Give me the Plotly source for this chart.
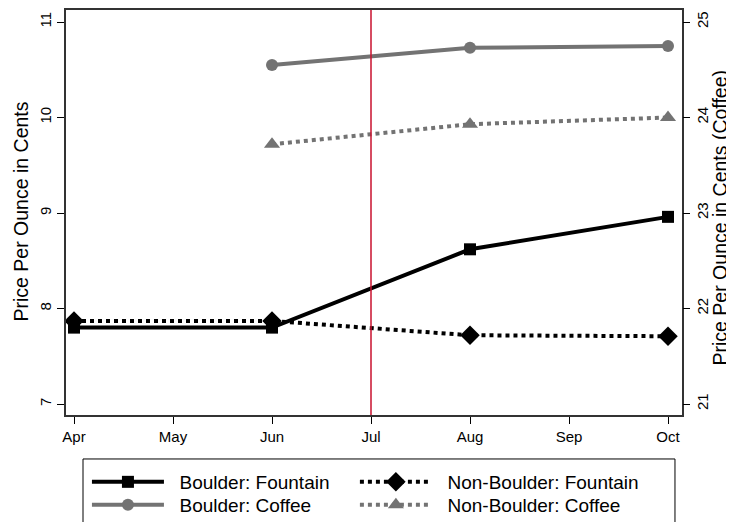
import plotly.graph_objects as go

months = ["Apr", "May", "Jun", "Jul", "Aug", "Sep", "Oct"]
obs_months = ["Apr", "Jun", "Aug", "Oct"]
boulder_fountain = [7.80, 7.80, 8.62, 8.96]
nonboulder_fountain = [7.87, 7.87, 7.72, 7.71]
coffee_months = ["Jun", "Aug", "Oct"]
boulder_coffee = [24.55, 24.73, 24.75]
nonboulder_coffee = [23.72, 23.93, 24.00]
event_month = "Jul"
left_title = "Price Per Ounce in Cents"
right_title = "Price Per Ounce in Cents (Coffee)"

idx = {m: i for i, m in enumerate(months)}
xf = [idx[m] for m in obs_months]
xc = [idx[m] for m in coffee_months]
pad = "\u00a0\u00a0"

fig = go.Figure()
fig.add_trace(go.Scatter(x=xf, y=boulder_fountain, name=pad + "Boulder: Fountain",
    mode="lines+markers", line=dict(color="black", width=4), legend="legend",
    marker=dict(symbol="square", size=12, color="black")))
fig.add_trace(go.Scatter(x=xf, y=nonboulder_fountain, name=pad + "Non-Boulder: Fountain",
    mode="lines+markers", line=dict(color="black", width=4, dash="dot"), legend="legend2",
    marker=dict(symbol="diamond", size=15, color="black")))
fig.add_trace(go.Scatter(x=xc, y=boulder_coffee, name=pad + "Boulder: Coffee", yaxis="y2",
    mode="lines+markers", line=dict(color="#737373", width=4), legend="legend3",
    marker=dict(symbol="circle", size=12, color="#737373")))
fig.add_trace(go.Scatter(x=xc, y=nonboulder_coffee, name=pad + "Non-Boulder: Coffee", yaxis="y2",
    mode="lines+markers", line=dict(color="#737373", width=4, dash="dot"), legend="legend4",
    marker=dict(symbol="triangle-up", size=14, color="#737373")))

fig.add_shape(type="line", xref="x", yref="paper", x0=idx[event_month], x1=idx[event_month],
              y0=0, y1=1, line=dict(color="#C8102E", width=1.5))
# legend frame
fig.add_shape(type="rect", xref="paper", yref="paper", x0=0.0276, x1=0.9886, y0=-0.1086, y1=-0.30,
              line=dict(color="black", width=1), fillcolor="rgba(0,0,0,0)", layer="above")

fig.add_annotation(text=left_title, xref="paper", yref="paper", x=-0.073, y=0.5025, textangle=-90,
                   showarrow=False, font=dict(size=19.5), xanchor="center", yanchor="middle")
fig.add_annotation(text=right_title, xref="paper", yref="paper", x=1.0617, y=0.4877, textangle=-90,
                   showarrow=False, font=dict(size=19.5), xanchor="center", yanchor="middle")

font = dict(family="Liberation Sans, Arial, sans-serif", size=15, color="black")
yl = [6.885, 11.126]
leg = dict(orientation="h", xanchor="left", yanchor="middle", borderwidth=0,
           font=dict(size=19), itemwidth=72, bgcolor="rgba(0,0,0,0)")
c1, c2 = 0.034, 0.469
r1, r2 = -0.1654, -0.2222
fig.update_layout(
    width=734, height=522,
    margin=dict(l=58, r=60, t=2, b=115),
    paper_bgcolor="white", plot_bgcolor="white",
    font=font,
    xaxis=dict(range=[-8/99, 6 + 14/99], tickvals=list(range(len(months))), ticktext=months,
               ticks="outside", ticklen=7, tickcolor="black", showline=True, linecolor="#333",
               linewidth=1.5, mirror=True, showgrid=False, zeroline=False, automargin=False),
    yaxis=dict(range=yl, tickvals=[7, 8, 9, 10, 11], tickangle=-90, ticks="outside", ticklen=7,
               tickcolor="black", showline=True, linecolor="#333", linewidth=1.5, mirror=True,
               showgrid=False, zeroline=False, automargin=False),
    yaxis2=dict(range=[yl[0] + 14, yl[1] + 14], tickvals=[21, 22, 23, 24, 25], tickangle=-90,
                overlaying="y", side="right", ticks="outside", ticklen=7, tickcolor="black",
                showline=False, showgrid=False, zeroline=False, automargin=False),
    legend=dict(leg, x=c1, y=r1),
    legend2=dict(leg, x=c2, y=r1),
    legend3=dict(leg, x=c1, y=r2),
    legend4=dict(leg, x=c2, y=r2),
    showlegend=True,
)
fig.write_html("out.html")
